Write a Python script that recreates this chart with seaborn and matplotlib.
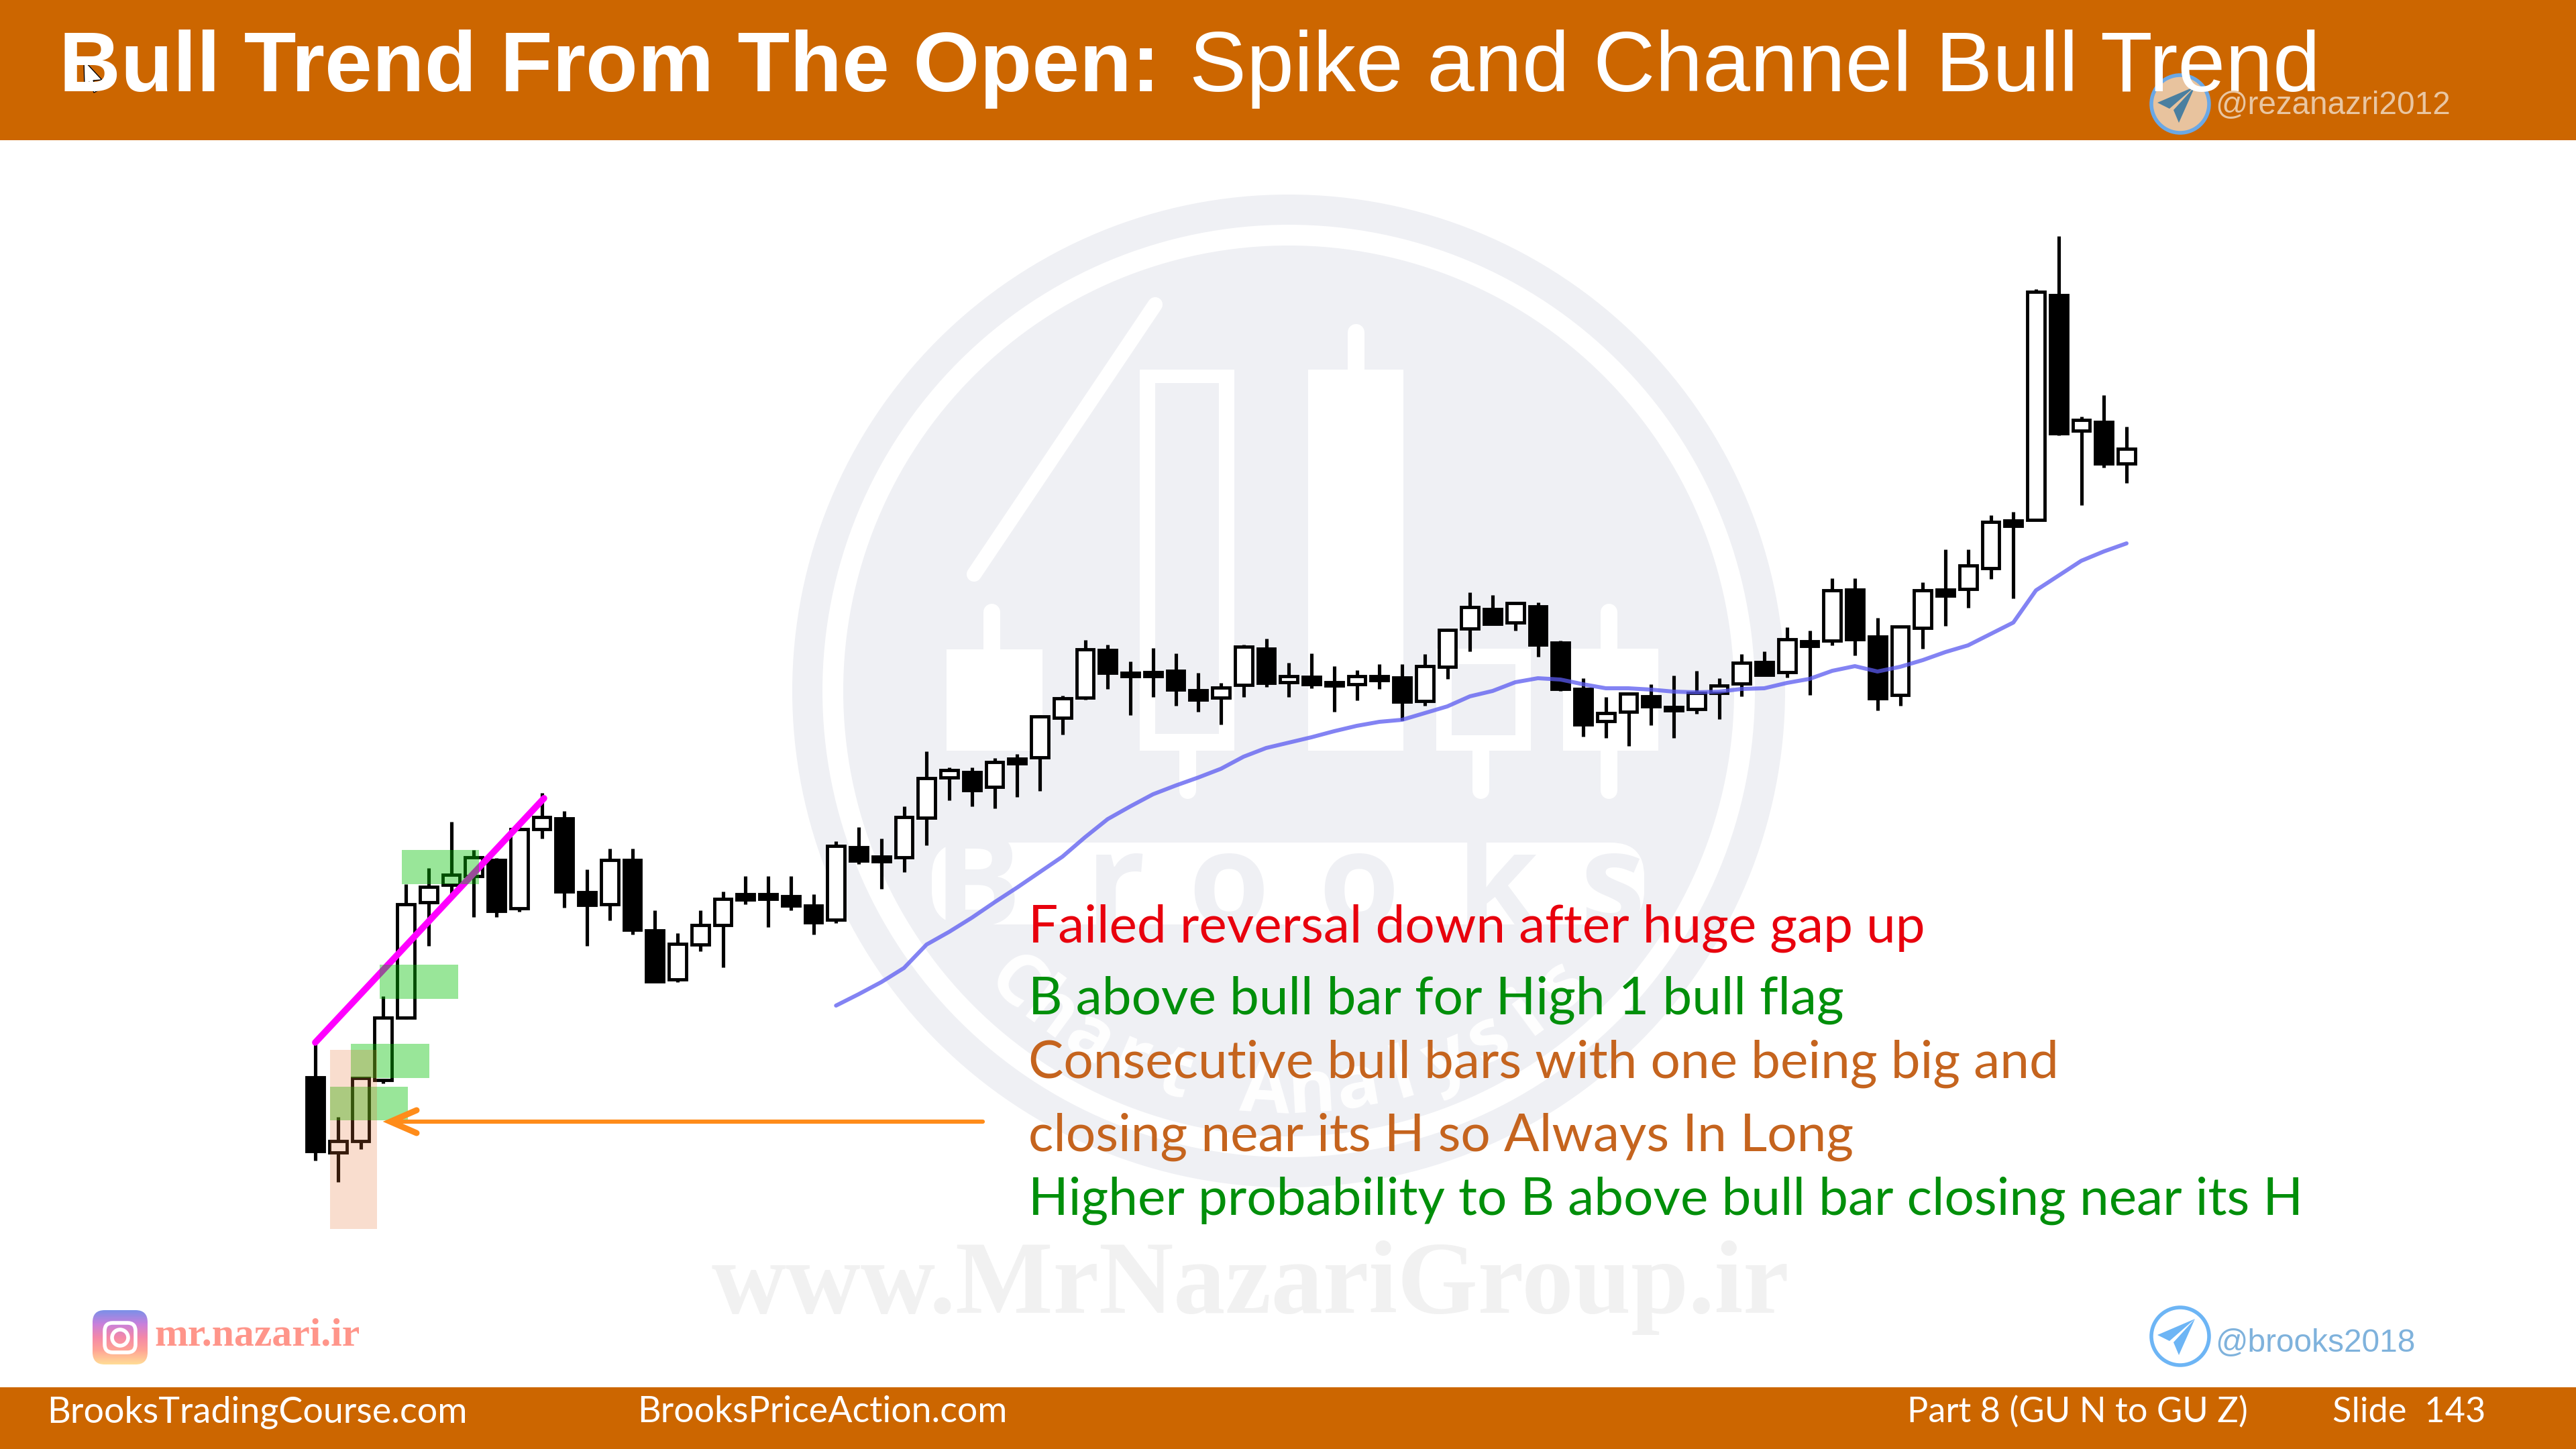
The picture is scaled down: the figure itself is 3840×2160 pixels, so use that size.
import numpy as np
import pandas as pd
import matplotlib
matplotlib.use('Agg')
import matplotlib.pyplot as plt
from matplotlib.colors import LinearSegmentedColormap
from matplotlib.patches import Circle, FancyBboxPatch, Polygon, Rectangle
import seaborn as sns

# ### bars, price is on a plain unnamed scale (the slide shows no axis)
opens = [554,442,459,550,643,815,841,854,878,806,924,940,830,812,878,773,700,752,781,827,827,824,810,789,897,883,882,941,1001,1009,987,1029,1031,1090,1120,1191,1157,1158,1160,1131,1120,1139,1193,1143,1151,1143,1140,1152,1150,1115,1166,1223,1252,1232,1256,1202,1133,1085,1099,1122,1106,1103,1127,1141,1173,1158,1204,1205,1281,1211,1124,1224,1281,1282,1313,1384,1385,1720,1518,1531,1469]
highs = [607,495,553,675,842,866,935,893,881,927,978,951,864,895,895,803,769,803,831,854,854,854,827,906,927,910,958,1040,1016,1016,1030,1036,1094,1123,1206,1199,1174,1194,1186,1157,1142,1199,1208,1172,1186,1167,1161,1170,1170,1185,1223,1277,1273,1262,1262,1205,1149,1121,1127,1140,1153,1160,1149,1185,1189,1225,1220,1298,1298,1239,1227,1292,1341,1341,1392,1397,1729,1808,1539,1571,1524]
lows = [430,398,447,545,641,750,822,793,793,801,910,807,750,788,767,696,696,742,718,812,778,803,767,784,872,835,860,900,967,958,955,972,981,1065,1117,1133,1094,1121,1108,1099,1080,1121,1136,1121,1134,1099,1116,1133,1086,1108,1148,1189,1229,1220,1181,1130,1062,1060,1048,1079,1060,1096,1088,1122,1153,1150,1124,1198,1183,1101,1108,1193,1227,1254,1297,1268,1384,1511,1407,1463,1440]
closes = [444,459,553,643,812,838,856,882,802,924,942,831,811,878,774,697,753,781,820,819,820,810,785,899,877,876,942,1000,1012,982,1024,1022,1092,1119,1192,1157,1152,1152,1132,1117,1135,1196,1142,1152,1140,1138,1152,1146,1114,1167,1221,1255,1230,1261,1199,1133,1080,1097,1126,1107,1101,1127,1138,1172,1154,1207,1197,1280,1207,1119,1226,1280,1272,1317,1382,1376,1725,1514,1534,1469,1491]

# ### moving average, starts at bar 23
ema_start = 23
ema = [661,678,696,717,752,771,792,815,837,860,883,912,939,958,976,989,1001,1014,1032,1045,1053,1061,1070,1078,1084,1087,1097,1107,1122,1130,1143,1149,1147,1140,1134,1134,1132,1129,1128,1129,1133,1134,1142,1148,1160,1167,1159,1166,1176,1188,1198,1215,1232,1280,1302,1324,1338,1350]

# ### trend line drawn over the spike
trend_bar = [0, 10.1]
trend_price = [606, 970]

title_bold = 'Bull Trend From The Open:'
title_rest = 'Spike and Channel Bull Trend'
notes = ['Failed reversal down after huge gap up',
         'B above bull bar for High 1 bull flag',
         'Consecutive bull bars with one being big and',
         'closing near its H so Always In Long',
         'Higher probability to B above bull bar closing near its H']
note_colors = ['#E8000D', '#008F0A', '#C5641E', '#C5641E', '#008F0A']
note_y = [1405, 1512, 1607, 1716, 1811]

ORANGE = '#CC6600'
MARK = '#EFF0F4'

sns.set_theme(style='white')
plt.rcParams['font.family'] = ['Lato', 'DejaVu Sans']

fig = plt.figure(figsize=(38.4, 21.6), dpi=100, facecolor='white')


def layer(z):
    # full slide axes, units are slide pixels
    a = fig.add_axes([0, 0, 1, 1], zorder=z)
    a.set_xlim(0, 3840)
    a.set_ylim(2160, 0)
    a.axis('off')
    a.patch.set_alpha(0)
    return a


back = layer(0)
over = layer(2)

# ### watermark behind the chart
cx, cy = 1921, 1030
for r, c in [(740, MARK), (695, 'white'), (664, MARK)]:
    back.add_patch(Circle((cx, cy), r, fc=c, ec='none'))

back.plot([1452, 1722], [856, 454], color='white', lw=16, solid_capstyle='round')
for x0, x1, y0, y1 in [(1411, 1554, 968, 1119), (1699, 1840, 551, 1119), (1950, 2092, 551, 1119),
                       (2141, 2282, 967, 1119), (2330, 2472, 967, 1119)]:
    back.add_patch(Rectangle((x0, y0), x1 - x0, y1 - y0, fc='white', ec='none'))
for x0, x1, y0, y1 in [(1722, 1817, 571, 1094), (2164, 2259, 990, 1096)]:
    back.add_patch(Rectangle((x0, y0), x1 - x0, y1 - y0, fc=MARK, ec='none'))
for x, y0, y1 in [(1478, 912, 968), (1770, 1119, 1178), (2021, 495, 551), (2207, 1119, 1178), (2398, 912, 967), (2398, 1119, 1178)]:
    back.plot([x, x], [y0, y1], color='white', lw=18, solid_capstyle='round')

back.add_patch(FancyBboxPatch((1395, 1262), 1050, 110, boxstyle='round,pad=6,rounding_size=50', fc='white', ec='none'))
for s, x in zip('Brooks', [1457, 1663, 1831, 2025, 2232, 2404]):
    back.text(x, 1380, s, color=MARK, fontsize=140, fontweight='bold', family='Open Sans', ha='center', va='baseline')

arc_text = 'Chart Analysis'
for s, a in zip(arc_text, np.linspace(-43, 43, len(arc_text))):
    t = np.radians(a)
    back.text(cx + 600 * np.sin(t), cy + 600 * np.cos(t), s, color='white', fontsize=78, fontweight='bold',
              family='Open Sans', rotation=a, rotation_mode='anchor', ha='center', va='center')

back.text(1864, 1957, 'www.MrNazariGroup.ir', color='#F1F1F1', fontsize=111, fontweight='bold',
          family='Liberation Serif', ha='center', va='baseline')

# ### the chart itself, bar number on x and price on y
chart = fig.add_axes([0, 0, 1, 1], zorder=1)
chart.patch.set_alpha(0)
bar_px, first_px = 33.75, 470
chart.set_xlim(-first_px / bar_px, (3840 - first_px) / bar_px)
chart.set_ylim(0, 2160)

bars = pd.DataFrame({'open': opens, 'high': highs, 'low': lows, 'close': closes})
bars['bar'] = bars.index
bars['bull'] = bars['close'] > bars['open']
chart.vlines(bars['bar'], bars['low'], bars['high'], color='black', lw=3.7, zorder=2)
chart.bar(bars['bar'], (bars['close'] - bars['open']).abs(), bottom=bars[['open', 'close']].min(axis=1),
          width=0.76, color=np.where(bars['bull'], 'white', 'black'), edgecolor='black', lw=3.5, zorder=3)

ema_df = pd.DataFrame({'bar': np.arange(len(ema)) + ema_start, 'ema': ema})
sns.lineplot(data=ema_df, x='bar', y='ema', ax=chart, color='#5A5AF0', alpha=0.75, lw=4.3, zorder=4)
sns.lineplot(x=trend_bar, y=trend_price, ax=chart, color='#FF00FF', lw=7, zorder=5)
chart.axis('off')

# ### highlight boxes and arrow on top of the bars
for x0, x1, y0, y1 in [(599, 714, 1267, 1318), (566, 683, 1438, 1489), (523, 640, 1556, 1607), (492, 608, 1620, 1670)]:
    over.add_patch(Rectangle((x0, y0), x1 - x0, y1 - y0, fc=(0.0, 0.76, 0.0, 0.4), ec='none'))
over.add_patch(Rectangle((492, 1565), 70, 267, fc=(0.9, 0.45, 0.2, 0.24), ec='none'))
over.plot([1465, 582], [1672, 1672], color='#FF8C1A', lw=4.5)
over.plot([621, 582, 621], [1655, 1672, 1689], color='#FF8C1A', lw=6.5, solid_capstyle='round', solid_joinstyle='miter')

# ### header and footer
over.add_patch(Rectangle((0, 0), 3840, 209, fc=ORANGE, ec='none'))
over.add_patch(Rectangle((0, 2068), 3840, 92, fc=ORANGE, ec='none'))
over.text(88, 136, title_bold, color='white', fontsize=91.7, fontweight='bold', family='Liberation Sans', va='baseline')
over.text(1773, 136, title_rest, color='white', fontsize=91.7, family='Liberation Sans', va='baseline')
over.add_patch(Polygon([(125, 90), (126, 130), (133, 122), (140, 138), (146, 135), (139, 120), (152, 119)],
                       fc='white', ec='black', lw=1))

for s, x, fs in [('BrooksTradingCourse.com', 70, 38.8), ('BrooksPriceAction.com', 950, 38.7),
                 ('Part 8 (GU N to GU Z)', 2843, 37.7), ('Slide  143', 3477, 37.7)]:
    over.text(x, 2120, s, color='white', fontsize=fs, va='baseline')

for s, y, c in zip(notes, note_y, note_colors):
    over.text(1533, y, s, color=c, fontsize=56.4, va='baseline')

# ### telegram and instagram tags
def telegram(y, fill, ring, plane):
    over.add_patch(Circle((3250, y), 43, fc=fill, ec=ring, lw=4))
    over.add_patch(Polygon([(3272, y - 26), (3216, y - 2), (3234, y + 7)], fc=plane, ec='none'))
    over.add_patch(Polygon([(3272, y - 26), (3240, y + 9), (3248, y + 28)], fc=plane, ec='none'))


telegram(155, '#E8C39E', '#6AA8E6', '#4A7FA0')
telegram(1992, 'white', '#6DB5F5', '#6DB5F5')
over.text(3302, 170, '@rezanazri2012', color='#E9C6A2', fontsize=34.4, family='Liberation Sans', va='baseline')
over.text(3302, 2015, '@brooks2018', color='#7FB2DC', fontsize=34.4, family='Liberation Sans', va='baseline')

insta = LinearSegmentedColormap.from_list('insta', ['#7C90E8', '#C880DC', '#F488A8', '#FFA595', '#FFDC96'])
box = FancyBboxPatch((144, 1959), 70, 69, boxstyle='round,pad=6,rounding_size=18', fc='none', ec='none')
over.add_patch(box)
im = over.imshow(np.linspace(0, 1, 64)[:, None], cmap=insta, extent=(138, 220, 2034, 1953), aspect='auto', zorder=3)
im.set_clip_path(box)
over.set_xlim(0, 3840)
over.set_ylim(2160, 0)
over.add_patch(FancyBboxPatch((156, 1972), 46, 44, boxstyle='round,pad=0,rounding_size=12', fc='none', ec='white', lw=4, zorder=4))
over.add_patch(Circle((179, 1994), 12, fc='none', ec='white', lw=4, zorder=4))
over.text(230, 2005, 'mr.nazari.ir', color='#FF958A', fontsize=43, fontweight='bold', family='Liberation Serif', va='baseline')

plt.savefig('out.png', dpi=100)
